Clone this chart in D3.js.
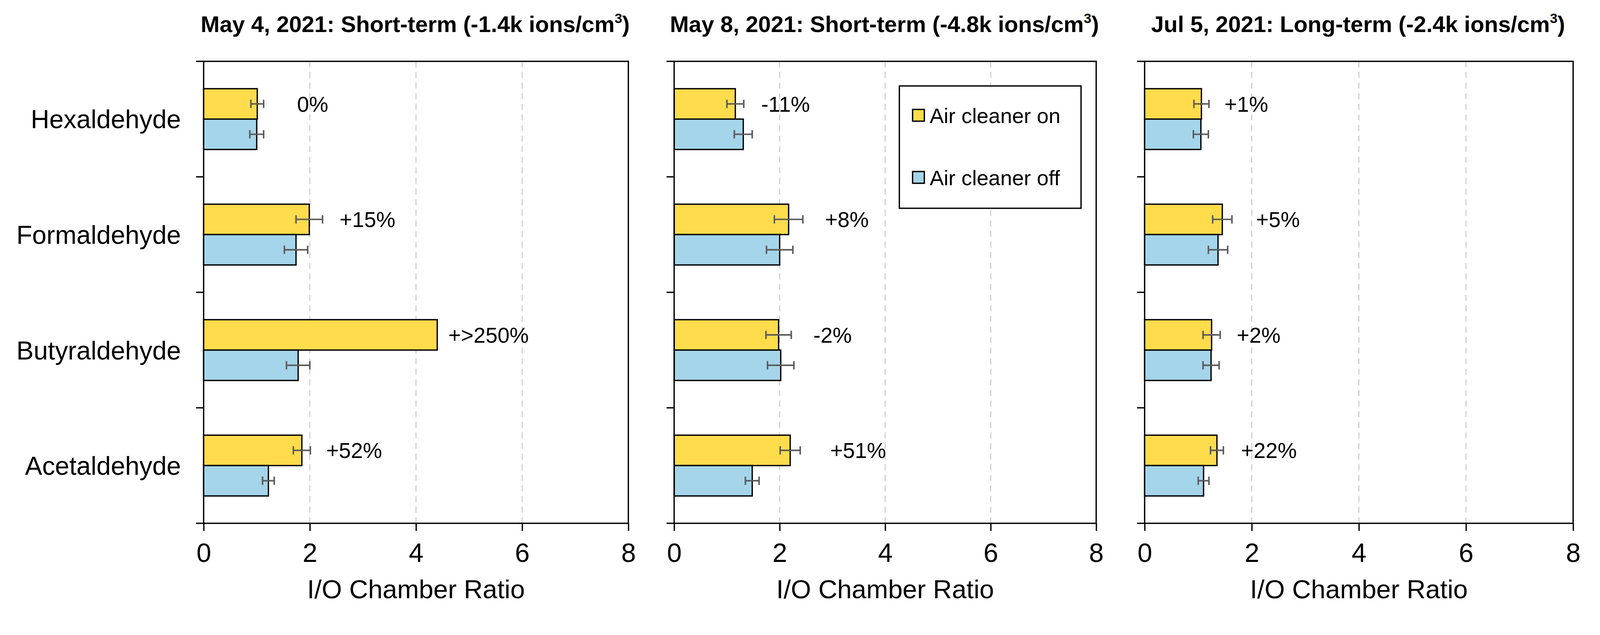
<!DOCTYPE html>
<html>
<head>
<meta charset="utf-8">
<script src="https://cdn.jsdelivr.net/npm/d3@7/dist/d3.min.js"></script>
<style>
  html, body { margin: 0; padding: 0; background: #fff; overflow: hidden; width: 100%; height: 100%; }
  svg { display: block; width: 100vw; height: 100vh; }
  text { font-family: "Liberation Sans", Arial, Helvetica, sans-serif; fill: #000; }
</style>
</head>
<body>
<svg id="chart" viewBox="0 0 4227 1625" preserveAspectRatio="xMidYMin meet"></svg>
<script>
// ---------------- DATA ----------------
const categories = ["Hexaldehyde", "Formaldehyde", "Butyraldehyde", "Acetaldehyde"];
const seriesNames = ["Air cleaner on", "Air cleaner off"];
const titleMain = ["May 4, 2021: Short-term (-1.4k ions/cm", "May 8, 2021: Short-term (-4.8k ions/cm", "Jul 5, 2021: Long-term (-2.4k ions/cm"];
const titleSup = ["3", "3", "3"];
const titleEnd = [")", ")", ")"];
const xTicks = [0, 2, 4, 6, 8];
const xAxisTitle = "I/O Chamber Ratio";

// values per panel, in category order
const onValues  = [[1.01, 1.99, 4.40, 1.85], [1.16, 2.17, 1.98, 2.20], [1.06, 1.45, 1.25, 1.35]];
const onErrors  = [[0.12, 0.25, null, 0.16], [0.16, 0.27, 0.24, 0.19], [0.14, 0.18, 0.16, 0.12]];
const offValues = [[1.00, 1.74, 1.78, 1.22], [1.31, 2.00, 2.02, 1.48], [1.05, 1.37, 1.24, 1.10]];
const offErrors = [[0.13, 0.22, 0.22, 0.11], [0.17, 0.25, 0.25, 0.13], [0.14, 0.18, 0.15, 0.10]];
const changeLabels = [["0%", "+15%", "+>250%", "+52%"], ["-11%", "+8%", "-2%", "+51%"], ["+1%", "+5%", "+2%", "+22%"]];
const labelAt = [[1.76, 2.56, 4.61, 2.31], [1.65, 2.86, 2.64, 2.96], [1.49, 2.08, 1.72, 1.80]];

// ---------------- LAYOUT ----------------
const colors = { on: "#FFDC4B", off: "#A5D5EA" };
const panelX = [[538, 1660], [1781, 2896], [3024, 4156]];
const plotTop = 162, plotBottom = 1382;
const svg = d3.select("#chart");

panelX.forEach((px, p) => {
  const g = svg.append("g");
  const x = d3.scaleLinear().domain([0, 8]).range(px);
  const y = d3.scaleBand().domain(categories).range([plotTop, plotBottom]).padding(0);
  const ySub = d3.scaleBand().domain(["on", "off"]).range([0, y.bandwidth()]).paddingInner(0).paddingOuter(0.9);

  // gridlines
  g.selectAll("line.grid").data(xTicks.filter(t => t > 0 && t < 8)).enter().append("line")
    .attr("x1", d => x(d)).attr("x2", d => x(d))
    .attr("y1", plotTop).attr("y2", plotBottom)
    .attr("stroke", "#cfcfcf").attr("stroke-width", 3).attr("stroke-dasharray", "16,12");

  const rows = categories.map((c, i) => ({
    cat: c,
    on: onValues[p][i], onErr: onErrors[p][i],
    off: offValues[p][i], offErr: offErrors[p][i],
    label: changeLabels[p][i], labelAt: labelAt[p][i]
  }));

  // bars
  ["on", "off"].forEach(s => {
    g.selectAll("rect.bar-" + s).data(rows).enter().append("rect")
      .attr("x", x(0))
      .attr("y", d => y(d.cat) + ySub(s))
      .attr("width", d => x(d[s]) - x(0))
      .attr("height", ySub.bandwidth())
      .attr("fill", colors[s]).attr("stroke", "#000").attr("stroke-width", 3.5);
  });

  // error bars
  const capH = 22;
  ["on", "off"].forEach(s => {
    const eb = rows.filter(d => d[s + "Err"] != null);
    const cy = d => y(d.cat) + ySub(s) + ySub.bandwidth() / 2;
    const eg = g.selectAll("g.err-" + s).data(eb).enter().append("g")
      .attr("stroke", "#5a5a5a").attr("stroke-width", 4);
    eg.append("line").attr("x1", d => x(d[s] - d[s + "Err"])).attr("x2", d => x(d[s] + d[s + "Err"]))
      .attr("y1", cy).attr("y2", cy);
    eg.append("line").attr("x1", d => x(d[s] - d[s + "Err"])).attr("x2", d => x(d[s] - d[s + "Err"]))
      .attr("y1", d => cy(d) - capH / 2).attr("y2", d => cy(d) + capH / 2);
    eg.append("line").attr("x1", d => x(d[s] + d[s + "Err"])).attr("x2", d => x(d[s] + d[s + "Err"]))
      .attr("y1", d => cy(d) - capH / 2).attr("y2", d => cy(d) + capH / 2);
  });

  // change labels
  g.selectAll("text.chg").data(rows).enter().append("text")
    .attr("x", d => x(d.labelAt))
    .attr("y", d => y(d.cat) + ySub("on") + ySub.bandwidth() / 2)
    .attr("dy", "0.36em")
    .attr("font-size", 57)
    .text(d => d.label);

  // frame
  g.append("rect").attr("x", px[0]).attr("y", plotTop)
    .attr("width", px[1] - px[0]).attr("height", plotBottom - plotTop)
    .attr("fill", "none").attr("stroke", "#000").attr("stroke-width", 3.5);

  // x axis
  const xAxis = d3.axisBottom(x).tickValues(xTicks).tickSize(20).tickPadding(32).tickFormat(d3.format("d"));
  const xg = g.append("g").attr("transform", `translate(0,${plotBottom})`).call(xAxis);
  xg.select(".domain").remove();
  xg.selectAll(".tick line").attr("stroke", "#000").attr("stroke-width", 3.5);
  xg.selectAll(".tick text").attr("font-size", 70).attr("font-family", "Liberation Sans, Arial, sans-serif").attr("fill", "#000");

  // y axis ticks (band boundaries)
  const boundaries = categories.map(c => y(c)).concat([plotBottom]);
  g.selectAll("line.ytick").data(boundaries).enter().append("line")
    .attr("x1", px[0] - 20).attr("x2", px[0])
    .attr("y1", d => d).attr("y2", d => d)
    .attr("stroke", "#000").attr("stroke-width", 3.5);

  // category labels (first panel only)
  if (p === 0) {
    g.selectAll("text.cat").data(categories).enter().append("text")
      .attr("x", px[0] - 60)
      .attr("y", d => y(d) + y.bandwidth() / 2)
      .attr("dy", "0.36em")
      .attr("text-anchor", "end")
      .attr("font-size", 68)
      .text(d => d);
  }

  // x-axis title
  g.append("text")
    .attr("x", (px[0] + px[1]) / 2).attr("y", 1580)
    .attr("text-anchor", "middle").attr("font-size", 69)
    .text(xAxisTitle);

  // panel title
  const t = g.append("text")
    .attr("x", (px[0] + px[1]) / 2 - 2).attr("y", 85)
    .attr("text-anchor", "middle").attr("font-size", 60).attr("font-weight", "bold");
  t.append("tspan").text(titleMain[p]);
  t.append("tspan").attr("font-size", 36).attr("dy", -24).text(titleSup[p]);
  t.append("tspan").attr("dy", 24).text(titleEnd[p]);

  // legend (middle panel)
  if (p === 1) {
    const lg = g.append("g");
    lg.append("rect").attr("x", 2376).attr("y", 227).attr("width", 480).attr("height", 323)
      .attr("fill", "#fff").attr("stroke", "#000").attr("stroke-width", 3.5);
    const legendItems = [{ name: seriesNames[0], key: "on", cy: 305 }, { name: seriesNames[1], key: "off", cy: 469 }];
    legendItems.forEach(it => {
      lg.append("rect").attr("x", 2411).attr("y", it.cy - 16).attr("width", 31).attr("height", 31)
        .attr("fill", colors[it.key]).attr("stroke", "#000").attr("stroke-width", 3.5);
      lg.append("text").attr("x", 2456).attr("y", it.cy).attr("dy", "0.36em")
        .attr("font-size", 56).text(it.name);
    });
  }
});
</script>
</body>
</html>
